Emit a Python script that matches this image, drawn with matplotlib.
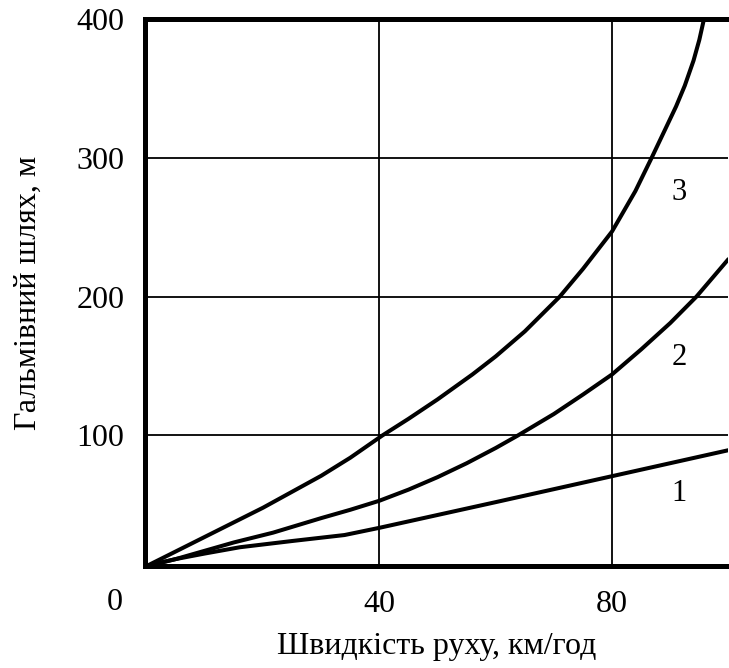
import matplotlib
matplotlib.use("Agg")
import matplotlib.pyplot as plt

# Braking distance vs speed, three curves
x1 = [0, 5, 10, 16, 25, 34, 40, 60, 80, 100]
y1 = [6, 11, 15, 19.5, 24, 28.3, 33.5, 52, 70.7, 89.4]

x2 = [0, 5, 10, 15, 21.7, 30, 35, 40, 45, 50, 55, 60, 63.8, 70, 75, 80, 85, 90, 94.5, 100]
y2 = [6, 11, 17, 23, 30, 40.5, 46.5, 53, 61, 70, 80, 91, 100, 115.5, 129.5, 144, 162, 181, 200, 227]

x3 = [0, 10, 20, 30, 35, 40.5, 45, 50, 56, 60, 65, 71, 75, 80, 84, 86.8, 89.3, 91, 92.5, 94, 95, 95.8]
y3 = [6, 27, 48, 71, 84, 100, 112, 126, 144, 157, 175, 200, 220, 247, 276, 300, 322, 337, 352, 370, 385, 400]

curve_labels = ["1", "2", "3"]
label_x = [91.5, 91.5, 91.5]
label_y = [58, 156, 275]

xticks = [40, 80]
yticks = [100, 200, 300, 400]

plt.rcParams['font.family'] = ['Liberation Serif', 'DejaVu Serif']

fig = plt.figure(figsize=(7.29, 6.68), dpi=100)
ax = fig.add_axes([0.1989, 0.1527, 0.8003, 0.8189])

ax.plot(x1, y1, color='black', lw=2.9, solid_capstyle='round', solid_joinstyle='round')
ax.plot(x2, y2, color='black', lw=2.9, solid_capstyle='round', solid_joinstyle='round')
ax.plot(x3, y3, color='black', lw=2.9, solid_capstyle='round', solid_joinstyle='round')

for t, lx, ly in zip(curve_labels, label_x, label_y):
    ax.text(lx, ly, t, fontsize=22, ha='center', va='center')

ax.set_xlim(-0.3, 100)
ax.set_ylim(6, 400)
ax.set_xticks(xticks)
ax.set_yticks(yticks)
ax.grid(True, color='black', lw=1.3)
ax.set_axisbelow(True)

for side in ['left', 'top', 'bottom']:
    ax.spines[side].set_linewidth(3.6)
ax.spines['right'].set_visible(False)

ax.tick_params(axis='both', length=0, labelsize=23)
ax.tick_params(axis='y', pad=15)
ax.tick_params(axis='x', pad=17)

ax.set_xlabel('Швидкість руху, км/год', fontsize=23, labelpad=10)
ax.set_ylabel('Гальмівний шлях, м', fontsize=23, labelpad=24)

# origin label sits at the corner, left of the axis
fig.text(115 / 729, 1 - 603 / 668, '0', fontsize=23, ha='center', va='center')

fig.savefig('out.png', dpi=100)
